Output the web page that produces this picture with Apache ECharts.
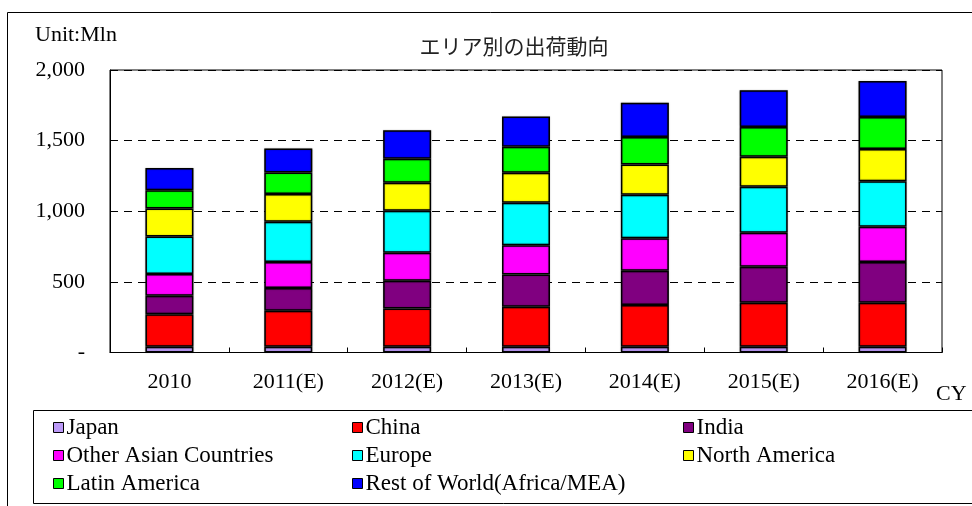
<!DOCTYPE html>
<html>
<head>
<meta charset="utf-8">
<script src="https://cdn.jsdelivr.net/npm/echarts@6/dist/echarts.min.js"></script>
<style>
  html, body { margin: 0; padding: 0; background: #fff; }
  #main { width: 972px; height: 506px; }
</style>
</head>
<body>
<div id="main"></div>
<script>
// categories (calendar year)
var years = ['2010', '2011(E)', '2012(E)', '2013(E)', '2014(E)', '2015(E)', '2016(E)'];

// shipments by area, Mln units
var japan      = [41, 41, 41, 41, 41, 40, 40];
var china      = [230, 255, 271, 283, 295, 312, 312];
var india      = [130, 161, 196, 229, 243, 255, 288];
var otherAsia  = [154, 183, 198, 207, 229, 240, 250];
var europe     = [266, 286, 297, 300, 308, 326, 323];
var northAm    = [199, 196, 198, 212, 215, 212, 228];
var latinAm    = [128, 153, 170, 184, 195, 212, 227];
var restWorld  = [158, 170, 202, 214, 243, 259, 254];

var yTicks = [0, 500, 1000, 1500, 2000];

var serif = 'Liberation Serif';

var myChart = echarts.init(document.getElementById('main'));

function mk(name, data, color) {
  return {
    name: name,
    type: 'bar',
    stack: 'total',
    data: data,
    barWidth: 48,
    itemStyle: {
      color: color,
      borderColor: '#000',
      borderWidth: 1.5,
      shadowColor: 'rgba(0,0,0,0.35)',
      shadowBlur: 1.5
    }
  };
}

var series = [
  mk('Japan', japan, '#bb99f7'),
  mk('China', china, '#ff0000'),
  mk('India', india, '#800080'),
  mk('Other Asian Countries', otherAsia, '#ff00ff'),
  mk('Europe', europe, '#00ffff'),
  mk('North America', northAm, '#ffff00'),
  mk('Latin America', latinAm, '#00ff00'),
  mk('Rest of World(Africa/MEA)', restWorld, '#0000ff')
];

function legendCol(left, names) {
  return {
    orient: 'vertical',
    left: left,
    top: 411,
    itemWidth: 10,
    itemHeight: 10,
    itemGap: 5,
    icon: 'rect',
    selectedMode: false,
    itemStyle: { borderColor: '#000', borderWidth: 1, shadowBlur: 0 },
    textStyle: { fontFamily: serif, fontSize: 23, color: '#000', padding: [0, 0, 0, -2] },
    data: names
  };
}

myChart.setOption({
  animation: false,
  grid: {
    left: 110,
    right: 30,
    top: 70,
    bottom: 153.5,
    show: true,
    borderColor: '#000',
    borderWidth: 1
  },
  legend: [
    legendCol(48, ['Japan', 'Other Asian Countries', 'Latin America']),
    legendCol(347, ['China', 'Europe', 'Rest of World(Africa/MEA)']),
    legendCol(678, ['India', 'North America'])
  ],
  xAxis: {
    type: 'category',
    data: years,
    axisLine: { lineStyle: { color: '#000', width: 1 } },
    axisTick: { show: true, inside: true, length: 5, lineStyle: { color: '#000' } },
    axisLabel: {
      margin: 19,
      fontFamily: serif,
      fontSize: 22,
      color: '#000'
    },
    splitLine: { show: false }
  },
  yAxis: {
    type: 'value',
    min: yTicks[0],
    max: yTicks[yTicks.length - 1],
    interval: 500,
    axisLine: { show: true, lineStyle: { color: '#000' } },
    axisTick: { show: true, inside: true, length: 5, lineStyle: { color: '#000' } },
    axisLabel: {
      margin: 25,
      fontFamily: serif,
      fontSize: 22,
      color: '#000',
      formatter: function (v) {
        return v === 0 ? '-' : v.toLocaleString('en-US');
      }
    },
    splitLine: {
      show: true,
      lineStyle: { color: '#000', type: [8, 6], width: 1 }
    }
  },
  graphic: [
    { // outer frame
      type: 'rect', silent: true, z: -1,
      shape: { x: 7.5, y: 12.5, width: 1000, height: 600 },
      style: { fill: 'none', stroke: '#000', lineWidth: 1 }
    },
    { // legend box
      type: 'rect', silent: true, z: -1,
      shape: { x: 33.5, y: 410.5, width: 1000, height: 93 },
      style: { fill: 'none', stroke: '#000', lineWidth: 1 }
    },
    {
      type: 'text', x: 35, y: 35,
      style: { text: 'Unit:Mln', fontFamily: serif, fontSize: 22, fill: '#000', verticalAlign: 'middle' }
    },
    {
      type: 'text', x: 514, y: 46,
      style: {
        text: 'エリア別の出荷動向', fontFamily: 'Noto Sans CJK JP', fontSize: 21,
        fill: '#222', align: 'center', verticalAlign: 'middle'
      }
    },
    {
      type: 'text', x: 936, y: 394,
      style: {
        text: 'CY', fontFamily: serif, fontSize: 22, fill: '#000',
        align: 'left', verticalAlign: 'middle'
      }
    }
  ],
  series: series
});
</script>
</body>
</html>
